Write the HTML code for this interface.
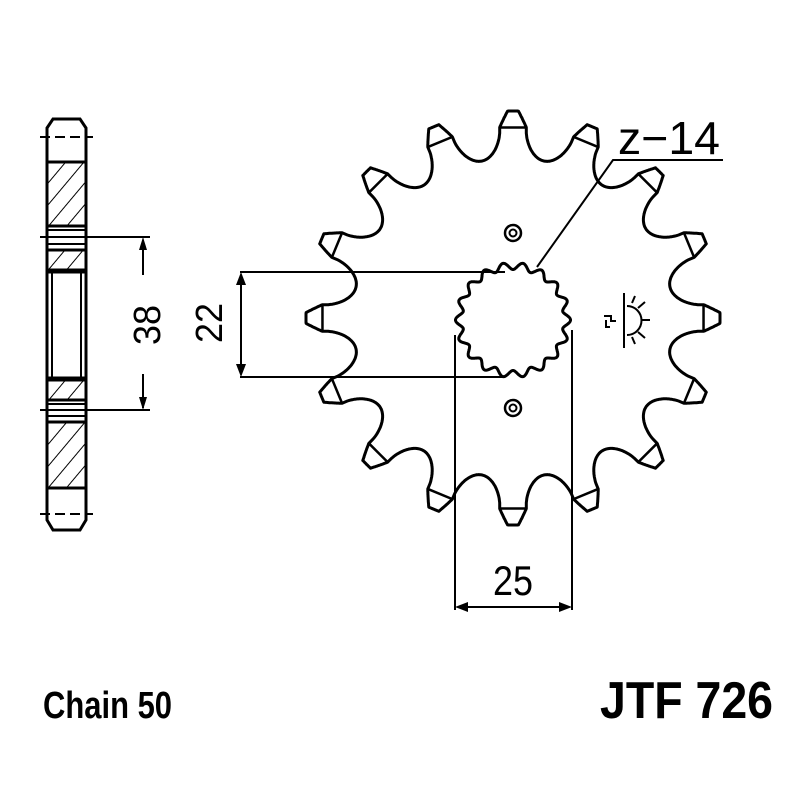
<!DOCTYPE html>
<html><head><meta charset="utf-8"><style>
html,body{margin:0;padding:0;background:#fff;}
svg{display:block}
text{font-family:"Liberation Sans",sans-serif;fill:#000}
</style></head><body>
<svg id="s" width="800" height="800" viewBox="0 0 800 800" xmlns="http://www.w3.org/2000/svg">
<defs>
<pattern id="h" width="14" height="14" patternUnits="userSpaceOnUse" patternTransform="rotate(40)">
<rect width="14" height="14" fill="#fff"/><line x1="0" y1="0" x2="0" y2="14" stroke="#000" stroke-width="2"/>
</pattern>
</defs>
<g id="g" fill="none" stroke="#000" stroke-width="3" stroke-linejoin="round"></g>
<g fill="none" stroke="#000" stroke-width="2">
<path d="M47,128 L53,119 L80,119 L86,128 L86,520 L80,530 L53,530 L47,520 Z" stroke-width="3"/>
<line x1="40" y1="137" x2="93" y2="137" stroke-dasharray="10,5"/>
<line x1="40" y1="514" x2="93" y2="514" stroke-dasharray="10,5"/>
<rect x="47" y="162" width="39" height="64" fill="url(#h)" stroke-width="3"/>
<rect x="47" y="250" width="39" height="20" fill="url(#h)" stroke-width="3"/>
<rect x="47" y="380" width="39" height="20" fill="url(#h)" stroke-width="3"/>
<rect x="47" y="422" width="39" height="66" fill="url(#h)" stroke-width="3"/>
<line x1="47" y1="230" x2="86" y2="230"/><line x1="47" y1="244" x2="86" y2="244"/>
<line x1="47" y1="404" x2="86" y2="404"/><line x1="47" y1="416" x2="86" y2="416"/>
<line x1="40" y1="237" x2="150" y2="237"/>
<line x1="40" y1="410" x2="150" y2="410"/>
<line x1="52" y1="272" x2="52" y2="378"/><line x1="81" y1="272" x2="81" y2="378"/>
<line x1="47" y1="272" x2="86" y2="272" stroke-width="3"/><line x1="47" y1="378" x2="86" y2="378" stroke-width="3"/>
<line x1="143" y1="240" x2="143" y2="275"/><line x1="143" y1="374" x2="143" y2="408"/>
<line x1="240" y1="272" x2="505" y2="272"/>
<line x1="240" y1="377" x2="505" y2="377"/>
<line x1="241" y1="275" x2="241" y2="374"/>
<line x1="455" y1="335" x2="455" y2="610"/>
<line x1="572" y1="330" x2="572" y2="610"/>
<line x1="458" y1="607" x2="569" y2="607"/>
<polyline points="537,267 613,160 723,160"/>
<circle cx="513" cy="233" r="8" stroke-width="2.5"/><circle cx="513" cy="233" r="3.5"/>
<circle cx="513" cy="408" r="8" stroke-width="2.5"/><circle cx="513" cy="408" r="3.5"/>
<line x1="624" y1="293" x2="624" y2="348"/>
<path d="M627,306 A14,14 0 0 1 627,335"/>
<path d="M632,303 L635,296 M638,308 L645,302 M641,320 L650,320 M638,332 L645,338 M632,337 L635,344"/>
<path d="M604,316 L611,316 L611,322 M606,320 L606,327 L610,327 M611,321 L616,321"/>
</g>
<g fill="#000">
<polygon points="143,237 139,250 147,250"/><polygon points="143,410 139,397 147,397"/>
<polygon points="241,272 236,285 246,285"/><polygon points="241,377 236,364 246,364"/>
<polygon points="455,607 468,602 468,612"/><polygon points="572,607 559,602 559,612"/>
</g>
<text x="0" y="0" font-size="38" transform="translate(160,325) rotate(-90)" text-anchor="middle" textLength="40" lengthAdjust="spacingAndGlyphs">38</text>
<text x="0" y="0" font-size="38" transform="translate(222,323) rotate(-90)" text-anchor="middle" textLength="40" lengthAdjust="spacingAndGlyphs">22</text>
<text x="493" y="595" font-size="42" textLength="40" lengthAdjust="spacingAndGlyphs">25</text>
<text x="618" y="154" font-size="46" textLength="102" lengthAdjust="spacingAndGlyphs">z−14</text>
<text x="43" y="718" font-size="38" font-weight="bold" textLength="129" lengthAdjust="spacingAndGlyphs">Chain 50</text>
<text x="600" y="718" font-size="52" font-weight="bold" textLength="173" lengthAdjust="spacingAndGlyphs">JTF 726</text>
</svg>
<script>
(function(){
var g=document.getElementById('g');var cx=513,cy=318;
var ns='http://www.w3.org/2000/svg';
function P(r,deg){var a=deg*Math.PI/180;return [cx+r*Math.cos(a),cy-r*Math.sin(a)];}
var d='';
var N=16,step=360/N,half=step/2;
var n=180;
for(var k=0;k<N;k++){
  var base=90+k*step;
  for(var i=0;i<n;i++){
    var f=-half+step*i/n;
    var af=Math.abs(f),r;
    if(af<=1.5)r=207;
    else if(af<=4)r=207-(af-1.5)/2.5*16;
    else{var u=(af-4)/(half-4);var v=1-u;r=160+31*(1-Math.sqrt(Math.max(0,1-v*v)));}
    var p=P(r,base+f);
    d+=(d?' L':'M')+p[0].toFixed(1)+' '+p[1].toFixed(1);
  }
  var a1=P(191,base-4),a2=P(191,base+4);
  var ln=document.createElementNS(ns,'line');
  ln.setAttribute('x1',a1[0]);ln.setAttribute('y1',a1[1]);
  ln.setAttribute('x2',a2[0]);ln.setAttribute('y2',a2[1]);
  ln.setAttribute('stroke-width','2.5');
  g.appendChild(ln);
}
d+=' Z';
var p1=document.createElementNS(ns,'path');p1.setAttribute('d',d);g.appendChild(p1);
var h='';var hx=513,hy=320;
for(var i=0;i<=720;i++){var a=i/720*2*Math.PI;var r=54+3.5*Math.cos(18*a);
 h+=(i?' L':'M')+(hx+r*Math.cos(a)).toFixed(1)+' '+(hy-r*Math.sin(a)).toFixed(1);}
var p3=document.createElementNS(ns,'path');p3.setAttribute('d',h+' Z');p3.setAttribute('fill','#fff');g.appendChild(p3);
})();
</script>
</body></html>
